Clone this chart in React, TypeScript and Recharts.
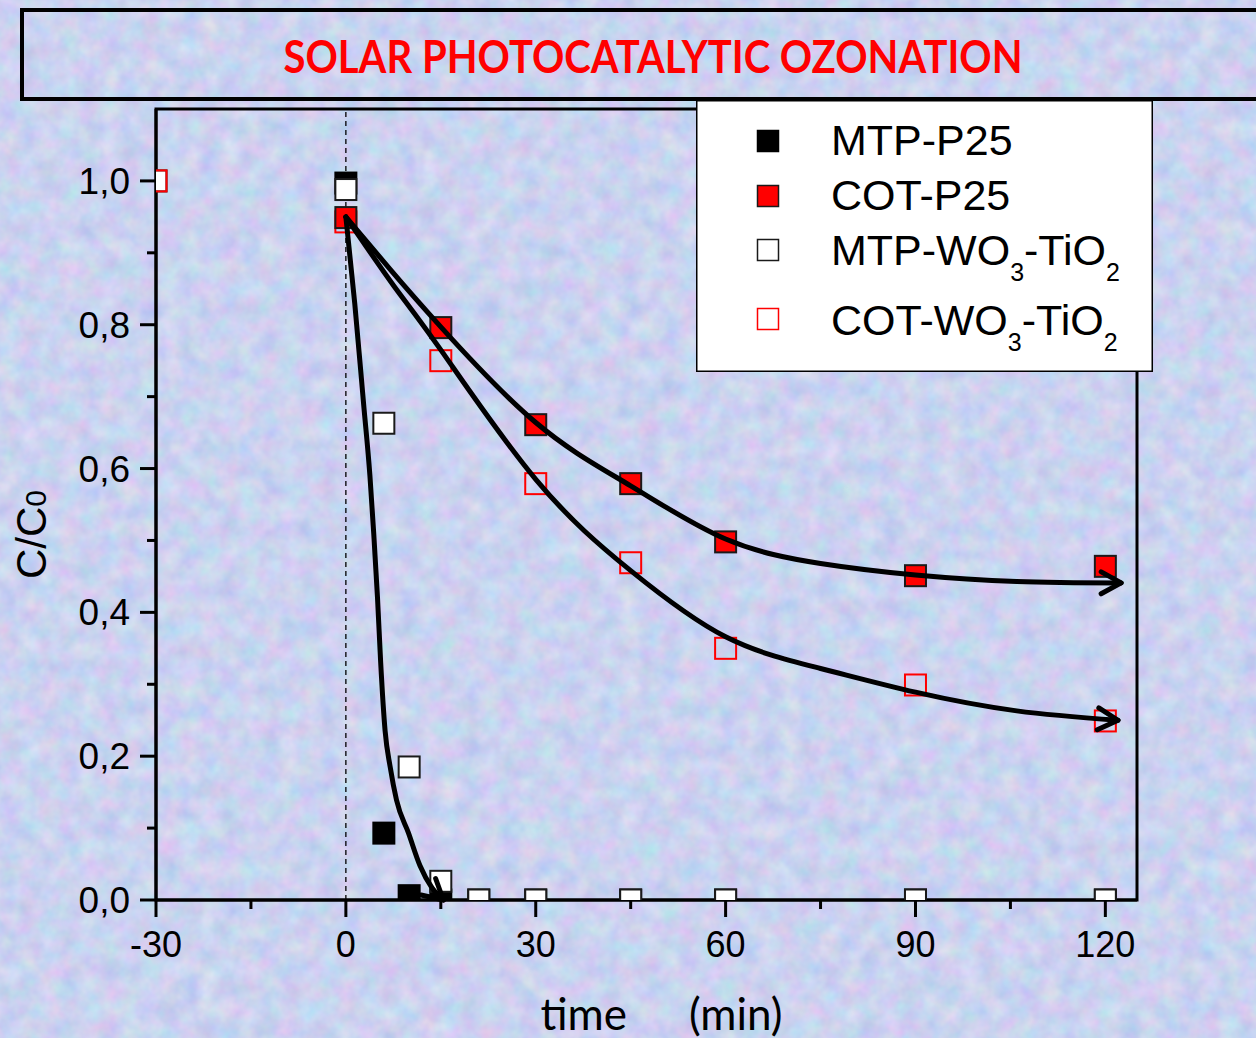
import React from 'react';
import {
  ComposedChart,
  Scatter,
  Line,
  XAxis,
  YAxis,
  ReferenceLine,
  ReferenceArea,
  Legend,
  Label,
} from 'recharts';

// ---------------- data ----------------
const TITLE = 'SOLAR PHOTOCATALYTIC OZONATION';
const X_LABEL_PARTS = ['time', '(min)'];
const Y_LABEL_MAIN = 'C/C';
const Y_LABEL_SUB = '0';

const seriesNames = ['MTP-P25', 'COT-P25', 'MTP-WO3-TiO2', 'COT-WO3-TiO2'];

const mtpP25Time = [0, 6, 10, 15, 21, 30, 45, 60, 90, 120];
const mtpP25Values = [0.997, 0.093, 0.006, 0, 0, 0, 0, 0, 0, 0];

const cotP25Time = [0, 15, 30, 45, 60, 90, 120];
const cotP25Values = [0.949, 0.796, 0.661, 0.579, 0.498, 0.451, 0.464];

const mtpWoTime = [-30, 0, 6, 10, 15, 21, 30, 45, 60, 90, 120];
const mtpWoValues = [1.0, 0.988, 0.663, 0.185, 0.026, 0, 0, 0, 0, 0, 0];

const cotWoTime = [-30, 0, 15, 30, 45, 60, 90, 120];
const cotWoValues = [1.0, 0.943, 0.75, 0.579, 0.469, 0.35, 0.299, 0.249];

// hand-drawn trend curves
const trendMtpTime = [0, 1.4, 2.8, 3.8, 4.4, 5.0, 5.5, 6.2, 7.0, 8.0, 9.9, 11.7, 13.6, 15.4];
const trendMtpValues = [0.95, 0.83, 0.69, 0.59, 0.51, 0.42, 0.33, 0.235, 0.185, 0.139, 0.093, 0.048, 0.017, 0];

const trendCotP25Time = [0, 7, 15, 30, 45, 60, 75, 90, 106, 122.5];
const trendCotP25Values = [0.95, 0.877, 0.797, 0.664, 0.576, 0.502, 0.468, 0.452, 0.443, 0.441];

const trendCotWoTime = [0, 7.5, 15, 30, 45, 60, 75, 90, 106, 122];
const trendCotWoValues = [0.95, 0.855, 0.765, 0.585, 0.458, 0.366, 0.322, 0.289, 0.263, 0.25];

const xTicks = [-30, -15, 0, 15, 30, 45, 60, 75, 90, 105, 120];
const xMajorTicks = [-30, 0, 30, 60, 90, 120];
const yTicks = [0, 0.1, 0.2, 0.3, 0.4, 0.5, 0.6, 0.7, 0.8, 0.9, 1.0];
const yMajorTicks = [0, 0.2, 0.4, 0.6, 0.8, 1.0];
const xDomain = [-30, 125];
const yDomain = [0, 1.1];

const toPoints = (xs: number[], ys: number[]) => xs.map((x, i) => ({ x, y: ys[i] }));

// ---------------- styles ----------------
const W = 1256;
const H = 1038;
const ARIAL = "'Liberation Sans', Arial, sans-serif";
const CALIBRI = "Lato, 'Open Sans', sans-serif";
const MARK = 21;

const seriesStyles = [
  { fill: '#000000', stroke: '#000000' },
  { fill: '#ff0000', stroke: '#1a1a1a' },
  { fill: '#ffffff', stroke: '#1a1a1a' },
  { fill: 'none', stroke: '#ff0000' },
];

const makeSquare = (fill: string, stroke: string) => (props: any) => {
  const { cx, cy } = props;
  if (cx == null || cy == null) return <g />;
  return (
    <rect
      x={cx - MARK / 2}
      y={cy - MARK / 2}
      width={MARK}
      height={MARK}
      fill={fill}
      stroke={stroke}
      strokeWidth={2}
    />
  );
};

const XTick = (props: any) => {
  const { x, y, payload } = props;
  const v = payload.value;
  const major = xMajorTicks.includes(v);
  return (
    <g>
      <line x1={x} x2={x} y1={y} y2={y + (major ? 17 : 9)} stroke="#000" strokeWidth={3} />
      {major && (
        <text x={x} y={y + 57} textAnchor="middle" fontFamily={ARIAL} fontSize={36} fill="#000">
          {String(v)}
        </text>
      )}
    </g>
  );
};

const YTick = (props: any) => {
  const { x, y, payload } = props;
  const v = payload.value;
  const major = yMajorTicks.some((m) => Math.abs(m - v) < 1e-6);
  return (
    <g>
      <line x1={x} x2={x - (major ? 16 : 9)} y1={y} y2={y} stroke="#000" strokeWidth={3} />
      {major && (
        <text x={x - 26} y={y + 13} textAnchor="end" fontFamily={ARIAL} fontSize={37} fill="#000">
          {v.toFixed(1).replace('.', ',')}
        </text>
      )}
    </g>
  );
};

const chemParts = (name: string) => name.split(/(?<=O)(\d)/);

const legendRows = [
  { marker: 41, base: 55 },
  { marker: 96, base: 110 },
  { marker: 150, base: 165 },
  { marker: 219, base: 235 },
];

const LegendBox = () => (
  <svg width={457} height={272} style={{ display: 'block' }}>
    <rect x={0.75} y={0.75} width={455.5} height={270.5} fill="#ffffff" stroke="#000" strokeWidth={1.5} />
    {seriesNames.map((name, i) => {
      const st = seriesStyles[i];
      const row = legendRows[i];
      const parts = chemParts(name);
      return (
        <g key={name}>
          <rect
            x={72 - 10.5}
            y={row.marker - 10.5}
            width={21}
            height={21}
            fill={st.fill === 'none' ? '#ffffff' : st.fill}
            stroke={st.stroke}
            strokeWidth={1.5}
          />
          <text x={135} y={row.base} fontFamily={ARIAL} fontSize={43} fill="#000">
            {parts.map((p, k) =>
              k % 2 === 1 ? (
                <tspan key={k} fontSize={25} dy={16}>
                  {p}
                </tspan>
              ) : (
                <tspan key={k} dy={k === 0 ? 0 : -16}>
                  {p}
                </tspan>
              )
            )}
          </text>
        </g>
      );
    })}
  </svg>
);

const YLabelContent = (props: any) => {
  const vb = props.viewBox || { x: 0, y: 109, width: 156, height: 791 };
  const cx = vb.x + vb.width - 110;
  const cy = vb.y + vb.height / 2 + 30;
  return (
    <text
      transform={`translate(${cx},${cy}) rotate(-90)`}
      textAnchor="middle"
      fontFamily={ARIAL}
      fontSize={42}
      fill="#000"
    >
      {Y_LABEL_MAIN}
      <tspan fontSize={30}>{Y_LABEL_SUB}</tspan>
    </text>
  );
};

const XLabelContent = (props: any) => {
  const vb = props.viewBox || { x: 156, y: 900, width: 981, height: 138 };
  const cx = vb.x + vb.width / 2 + 15;
  const cy = vb.y + 130;
  return (
    <text x={cx} y={cy} textAnchor="middle" fontFamily={CALIBRI} fontSize={44} fill="#000">
      <tspan>{X_LABEL_PARTS[0]}</tspan>
      <tspan dx={62}>{X_LABEL_PARTS[1]}</tspan>
    </text>
  );
};

export default function App() {
  return (
    <div
      style={{
        position: 'absolute',
        left: 0,
        top: 0,
        width: W,
        height: H,
        overflow: 'hidden',
      }}
    >
      <svg width={W} height={H} style={{ position: 'absolute', left: 0, top: 0 }}>
        <defs>
          <filter
            id="bgNoise"
            x="0"
            y="0"
            width="100%"
            height="100%"
            colorInterpolationFilters="sRGB"
          >
            <feTurbulence type="fractalNoise" baseFrequency="0.05" numOctaves={3} seed={7} />
            <feColorMatrix
              type="matrix"
              values="0.24 0 0 0 0.675  0 0.18 0 0 0.735  0 0 0.09 0 0.895  0 0 0 0 1"
            />
          </filter>
          <marker
            id="arrowHead"
            viewBox="0 0 28 26"
            refX={23}
            refY={13}
            markerWidth={28}
            markerHeight={26}
            markerUnits="userSpaceOnUse"
            orient="auto"
            style={{ overflow: 'visible' }}
          >
            <path
              d="M3,2 L23,13 L3,24"
              fill="none"
              stroke="#000"
              strokeWidth={5}
              strokeLinecap="round"
              strokeLinejoin="round"
            />
          </marker>
        </defs>
        <rect x={0} y={0} width={W} height={H} fill="#cad3f0" />
        <rect x={0} y={0} width={W} height={H} filter="url(#bgNoise)" />
      </svg>

      <div
        style={{
          position: 'absolute',
          left: 20,
          top: 8,
          width: 1300,
          height: 93,
          boxSizing: 'border-box',
          border: '4px solid #000',
        }}
      >
        <svg width={1300} height={85} style={{ position: 'absolute', left: 0, top: 0 }}>
          <text
            x={629}
            y={61}
            textAnchor="middle"
            fontFamily={CALIBRI}
            fontWeight={700}
            fontSize={45}
            fill="#ff0000"
            textLength={739}
            lengthAdjust="spacingAndGlyphs"
          >
            {TITLE}
          </text>
        </svg>
      </div>

      <div style={{ position: 'absolute', left: 0, top: 0 }}>
        <ComposedChart width={W} height={H} margin={{ top: 109, right: 119, bottom: 0, left: 0 }}>
          <XAxis
            xAxisId="main"
            type="number"
            dataKey="x"
            domain={xDomain}
            ticks={xTicks}
            allowDataOverflow
            height={138}
            tickSize={0}
            tickMargin={0}
            tickLine={false}
            tick={<XTick />}
            axisLine={{ stroke: '#000', strokeWidth: 3 }}
            interval={0}
          >
            <Label content={<XLabelContent />} />
          </XAxis>
          <YAxis
            yAxisId="main"
            type="number"
            dataKey="y"
            domain={yDomain}
            ticks={yTicks}
            allowDataOverflow
            width={156}
            tickSize={0}
            tickMargin={0}
            tickLine={false}
            tick={<YTick />}
            axisLine={{ stroke: '#000', strokeWidth: 3 }}
            interval={0}
          >
            <Label content={<YLabelContent />} />
          </YAxis>
          <XAxis xAxisId="trend" type="number" dataKey="x" domain={xDomain} ticks={xTicks} hide />
          <YAxis yAxisId="trend" type="number" dataKey="y" domain={yDomain} ticks={yTicks} hide />

          <ReferenceArea
            xAxisId="main"
            yAxisId="main"
            x1={xDomain[0]}
            x2={xDomain[1]}
            y1={yDomain[0]}
            y2={yDomain[1]}
            fill="none"
            fillOpacity={0}
            stroke="#000"
            strokeWidth={3}
            ifOverflow="visible"
          />
          <ReferenceLine
            xAxisId="main"
            yAxisId="main"
            x={0}
            stroke="#000"
            strokeWidth={1.3}
            strokeDasharray="5 4"
          />

          <Scatter
            name={seriesNames[0]}
            xAxisId="main"
            yAxisId="main"
            data={toPoints(mtpP25Time, mtpP25Values)}
            shape={makeSquare(seriesStyles[0].fill, seriesStyles[0].stroke)}
            isAnimationActive={false}
          />
          <Scatter
            name={seriesNames[2]}
            xAxisId="main"
            yAxisId="main"
            data={toPoints(mtpWoTime, mtpWoValues)}
            shape={makeSquare(seriesStyles[2].fill, seriesStyles[2].stroke)}
            isAnimationActive={false}
          />
          <Scatter
            name={seriesNames[3]}
            xAxisId="main"
            yAxisId="main"
            data={toPoints(cotWoTime, cotWoValues)}
            shape={makeSquare(seriesStyles[3].fill, seriesStyles[3].stroke)}
            isAnimationActive={false}
          />
          <Scatter
            name={seriesNames[1]}
            xAxisId="main"
            yAxisId="main"
            data={toPoints(cotP25Time, cotP25Values)}
            shape={makeSquare(seriesStyles[1].fill, seriesStyles[1].stroke)}
            isAnimationActive={false}
          />

          <Line
            xAxisId="trend"
            yAxisId="trend"
            data={toPoints(trendMtpTime, trendMtpValues)}
            dataKey="y"
            type="monotone"
            stroke="#000"
            strokeWidth={5}
            strokeLinecap="round"
            dot={false}
            activeDot={false}
            legendType="none"
            markerEnd="url(#arrowHead)"
            isAnimationActive={false}
            zIndex={700}
          />
          <Line
            xAxisId="trend"
            yAxisId="trend"
            data={toPoints(trendCotP25Time, trendCotP25Values)}
            dataKey="y"
            type="natural"
            stroke="#000"
            strokeWidth={5}
            strokeLinecap="round"
            dot={false}
            activeDot={false}
            legendType="none"
            markerEnd="url(#arrowHead)"
            isAnimationActive={false}
            zIndex={700}
          />
          <Line
            xAxisId="trend"
            yAxisId="trend"
            data={toPoints(trendCotWoTime, trendCotWoValues)}
            dataKey="y"
            type="natural"
            stroke="#000"
            strokeWidth={5}
            strokeLinecap="round"
            dot={false}
            activeDot={false}
            legendType="none"
            markerEnd="url(#arrowHead)"
            isAnimationActive={false}
            zIndex={700}
          />

          <Legend
            layout="horizontal"
            verticalAlign="middle"
            align="center"
            wrapperStyle={{ position: 'absolute', left: 696, top: 100, width: 457, height: 272 }}
            content={() => <LegendBox />}
          />
        </ComposedChart>
      </div>
    </div>
  );
}
